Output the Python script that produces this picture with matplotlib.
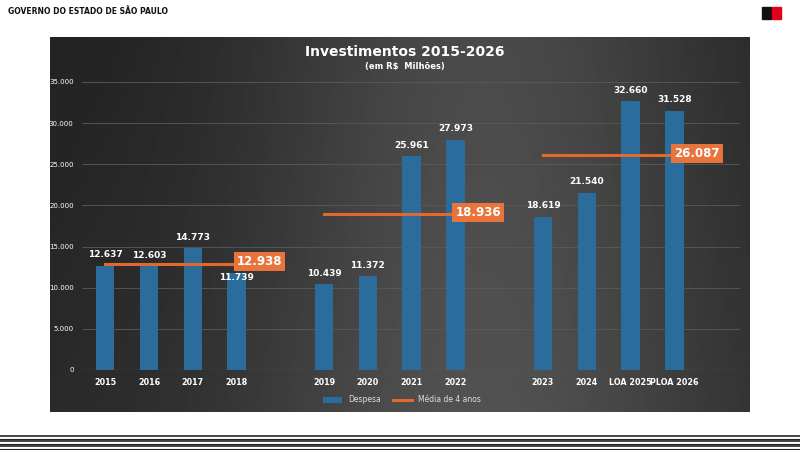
import numpy as np
import matplotlib
matplotlib.use("Agg")
import matplotlib.pyplot as plt
from matplotlib.patches import Rectangle
from matplotlib import font_manager

categories = ["2015", "2016", "2017", "2018", "2019", "2020", "2021", "2022",
              "2023", "2024", "LOA 2025", "PLOA 2026"]
despesa = [12637, 12603, 14773, 11739, 10439, 11372, 25961, 27973,
           18619, 21540, 32660, 31528]
media_groups = [(0, 3, 12938), (4, 7, 18936), (8, 11, 26087)]
positions = [0, 1, 2, 3, 5, 6, 7, 8, 10, 11, 12, 13]

def fmt(v):
    return f"{v:,}".replace(",", ".")

names = {f.name for f in font_manager.fontManager.ttflist}
narrow = "Liberation Sans Narrow" if "Liberation Sans Narrow" in names else "DejaVu Sans"
tick_size = 7 if narrow != "DejaVu Sans" else 5.8

fig = plt.figure(figsize=(8, 4.5), dpi=100)
fig.patch.set_facecolor("white")

# header
fig.text(8/800, 1-11/450, "GOVERNO DO ESTADO DE SÃO PAULO", fontsize=5.5,
         fontweight="bold", color="#111111", va="center")
fig.patches.append(Rectangle((762/800, 1-19/450), 9/800, 12/450,
                             transform=fig.transFigure, color="#111111"))
fig.patches.append(Rectangle((772/800, 1-19/450), 9/800, 12/450,
                             transform=fig.transFigure, color="#e3001b"))

# dark gradient panel
bg = fig.add_axes([50/800, 1-412/450, 700/800, 375/450])
xs = np.linspace(0, 1, 300)
ys = np.linspace(0, 1, 100)
X, Y = np.meshgrid(xs, ys)
val = 0.13 + 0.16 * np.exp(-((X - 0.62) ** 2) / 0.12) + 0.03 * Y
bg.imshow(val, cmap="gray", vmin=0, vmax=1, aspect="auto", extent=[0, 1, 0, 1])
bg.axis("off")

# bottom stripes
for i, y in enumerate(np.linspace(436, 449, 6)):
    fig.add_artist(plt.Line2D([0, 1], [1-y/450, 1-y/450], color="#222222",
                              lw=1.2 if i % 2 == 0 else 0.8,
                              transform=fig.transFigure))

ax = fig.add_axes([82/800, 1-370/450, 658/800, 288/450])
ax.set_facecolor("none")
ax.bar(positions, despesa, width=0.42, color="#2a6c9c", zorder=2,
       label="Despesa")
for i, (p, v) in enumerate(zip(positions, despesa)):
    if i == 3:
        # 2018 label sits lower, under the average box
        ax.text(p, v - 500, fmt(v), ha="center", va="center", color="white",
                fontsize=6.5, fontweight="bold", zorder=6)
    else:
        ax.text(p, v + 800, fmt(v), ha="center", va="bottom", color="white",
                fontsize=6.5, fontweight="bold", zorder=4)

for k, (a, b, m) in enumerate(media_groups):
    x0, x1 = positions[a], positions[b]
    ax.plot([x0, x1 + 0.25], [m, m], color="#e06a2c", lw=2.2, zorder=3,
            label="Média de 4 anos" if k == 0 else None)
    ax.text(x1 + 0.0, m + 200, fmt(m), ha="left", va="center", color="white",
            fontsize=8.5, fontweight="bold", zorder=5,
            bbox=dict(boxstyle="square,pad=0.25", fc="#e8743b", ec="none"))

ax.set_xlim(-0.53, 14.5)
ax.set_ylim(0, 35000)
ax.set_yticks(range(0, 35001, 5000))
ax.set_yticklabels([fmt(v) for v in range(0, 35001, 5000)], fontsize=5,
                   color="white")
ax.set_xticks(positions)
ax.set_xticklabels(categories, fontsize=tick_size, color="white",
                   fontweight="bold", family=narrow)
ax.tick_params(length=0, pad=6)
ax.grid(axis="y", color="#5a5a5a", lw=0.6, zorder=0)
ax.axhline(0, color="#9a9a9a", lw=0.8, zorder=1)
for s in ax.spines.values():
    s.set_visible(False)

fig.text(405/800, 1-52/450, "Investimentos 2015-2026", ha="center",
         va="center", fontsize=10, fontweight="bold", color="white")
fig.text(405/800, 1-67/450, "(em R$  Milhões)", ha="center", va="center",
         fontsize=6, fontweight="bold", color="white")

handles, labels = ax.get_legend_handles_labels()
order = [labels.index("Despesa"), labels.index("Média de 4 anos")]
fig.legend([handles[i] for i in order], [labels[i] for i in order],
           loc="center", bbox_to_anchor=(402/800, 1-400/450), ncol=2,
           frameon=False, fontsize=5.5, labelcolor="#dddddd",
           handlelength=2.5, columnspacing=1.5)
fig.savefig("out.png", dpi=100)
